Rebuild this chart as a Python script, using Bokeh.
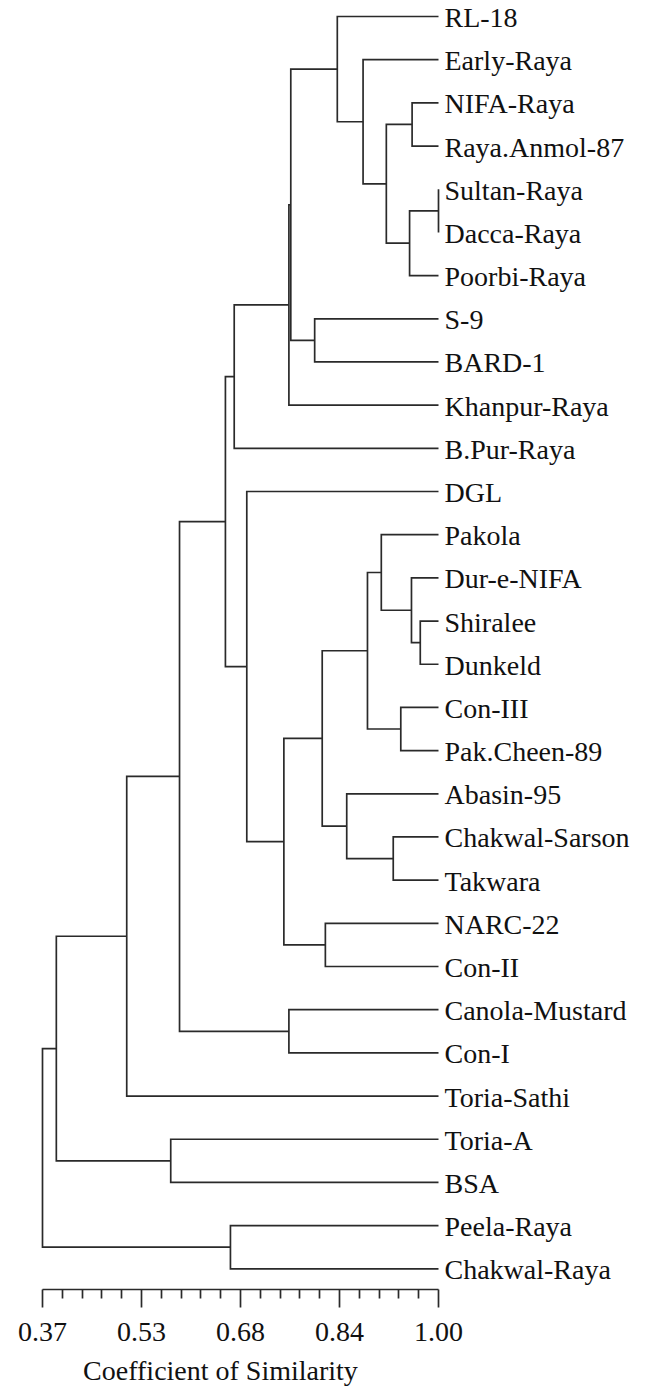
from bokeh.plotting import figure
from bokeh.models import Range1d, FixedTicker, ColumnDataSource, LinearAxis
from bokeh.core.properties import value
from bokeh.embed import file_html
from bokeh.resources import INLINE

# ---- data ----
leaves = ["RL-18", "Early-Raya", "NIFA-Raya", "Raya.Anmol-87", "Sultan-Raya",
          "Dacca-Raya", "Poorbi-Raya", "S-9", "BARD-1", "Khanpur-Raya",
          "B.Pur-Raya", "DGL", "Pakola", "Dur-e-NIFA", "Shiralee", "Dunkeld",
          "Con-III", "Pak.Cheen-89", "Abasin-95", "Chakwal-Sarson", "Takwara",
          "NARC-22", "Con-II", "Canola-Mustard", "Con-I", "Toria-Sathi",
          "Toria-A", "BSA", "Peela-Raya", "Chakwal-Raya"]

# merges (left child, right child, similarity at which they join)
merge_names = ["n%d" % i for i in range(1, 30)]
merge_left = ["Sultan-Raya", "n1", "NIFA-Raya", "n3", "Early-Raya", "RL-18",
              "S-9", "n6", "n8", "n9",
              "Shiralee", "Dur-e-NIFA", "Pakola", "Con-III", "n13",
              "Chakwal-Sarson", "Abasin-95", "n15", "NARC-22", "n18",
              "DGL", "n10", "Canola-Mustard", "n22", "n24",
              "Toria-A", "n25", "Peela-Raya", "n27"]
merge_right = ["Dacca-Raya", "Poorbi-Raya", "Raya.Anmol-87", "n2", "n4", "n5",
               "BARD-1", "n7", "Khanpur-Raya", "B.Pur-Raya",
               "Dunkeld", "n11", "n12", "Pak.Cheen-89", "n14",
               "Takwara", "n16", "n17", "Con-II", "n19",
               "n20", "n21", "Con-I", "n23", "Toria-Sathi",
               "BSA", "n26", "Chakwal-Raya", "n28"]
merge_sim = [1.000, 0.954, 0.958, 0.917, 0.880, 0.839,
             0.803, 0.765, 0.762, 0.675,
             0.971, 0.957, 0.909, 0.940, 0.887,
             0.928, 0.854, 0.815, 0.820, 0.754,
             0.695, 0.661, 0.762, 0.588, 0.504,
             0.574, 0.392, 0.669, 0.370]

major_ticks = [0.37, 0.5275, 0.685, 0.8425, 1.00]
major_labels = ["0.37", "0.53", "0.68", "0.84", "1.00"]
axis_title = "Coefficient of Similarity"

# ---- geometry of the tree ----
pos = {name: (1.0, i) for i, name in enumerate(leaves)}
xs, ys = [], []
for name, a, b, h in zip(merge_names, merge_left, merge_right, merge_sim):
    xa, ya = pos[a]
    xb, yb = pos[b]
    xs.append([xa, h, h, xb])
    ys.append([ya, ya, yb, yb])
    pos[name] = (h, (ya + yb) / 2.0)

src = ColumnDataSource(dict(xs=xs, ys=ys))
lab = ColumnDataSource(dict(x=[1.0] * len(leaves), y=list(range(len(leaves))), t=leaves))

FONT = "Liberation Serif"
FS = "28px"
LINE = "#2a2a2a"
TXT = "#111111"

p = figure(width=645, height=1388, output_backend="svg", toolbar_location=None,
           x_range=Range1d(0.303182, 1.329318), y_range=Range1d(31.772, -0.3705),
           y_axis_location=None, min_border_left=0, min_border_right=0,
           min_border_top=0, min_border_bottom=0)
p.grid.visible = False
p.outline_line_color = None
p.background_fill_color = "white"
p.border_fill_color = "white"

p.multi_line(xs="xs", ys="ys", source=src, line_color=LINE, line_width=1.7,
             line_join="miter", line_cap="butt")
p.text(x="x", y="y", text="t", source=lab, x_offset=6, y_offset=1,
       text_align="left", text_baseline="alphabetic", text_color=TXT,
       text_font=value(FONT), text_font_size=FS)

minor = []
for a, b in zip(major_ticks[:-1], major_ticks[1:]):
    for k in range(1, 5):
        minor.append(a + (b - a) * k / 5.0)

AXIS_Y = 29.479

ax = p.xaxis[0]
ax.ticker = FixedTicker(ticks=major_ticks, minor_ticks=minor)
ax.major_label_overrides = dict(zip(major_ticks, major_labels))
ax.bounds = (0.37, 1.0)
ax.fixed_location = AXIS_Y
ax.axis_line_color = LINE
ax.axis_line_width = 1.7
ax.major_tick_line_color = LINE
ax.major_tick_line_width = 1.7
ax.minor_tick_line_color = LINE
ax.minor_tick_line_width = 1.7
ax.major_tick_in = 0
ax.major_tick_out = 18
ax.minor_tick_in = 0
ax.minor_tick_out = 9
ax.major_label_standoff = 16
ax.major_label_text_font = FONT
ax.major_label_text_font_size = FS
ax.major_label_text_color = TXT

# second (bare) axis carrying only the title, centred as in the original
tax = LinearAxis(ticker=FixedTicker(ticks=[]), bounds=(0.30636, 1.0),
                 fixed_location=AXIS_Y, axis_line_color=None,
                 major_tick_line_color=None, minor_tick_line_color=None,
                 major_tick_out=18, major_label_standoff=16,
                 major_label_text_font=FONT, major_label_text_font_size=FS,
                 axis_label=axis_title, axis_label_standoff=65,
                 axis_label_text_font=FONT, axis_label_text_font_size=FS,
                 axis_label_text_font_style="normal", axis_label_text_color=TXT)
p.add_layout(tax, "below")

open("out.html", "w").write(file_html(p, INLINE))
